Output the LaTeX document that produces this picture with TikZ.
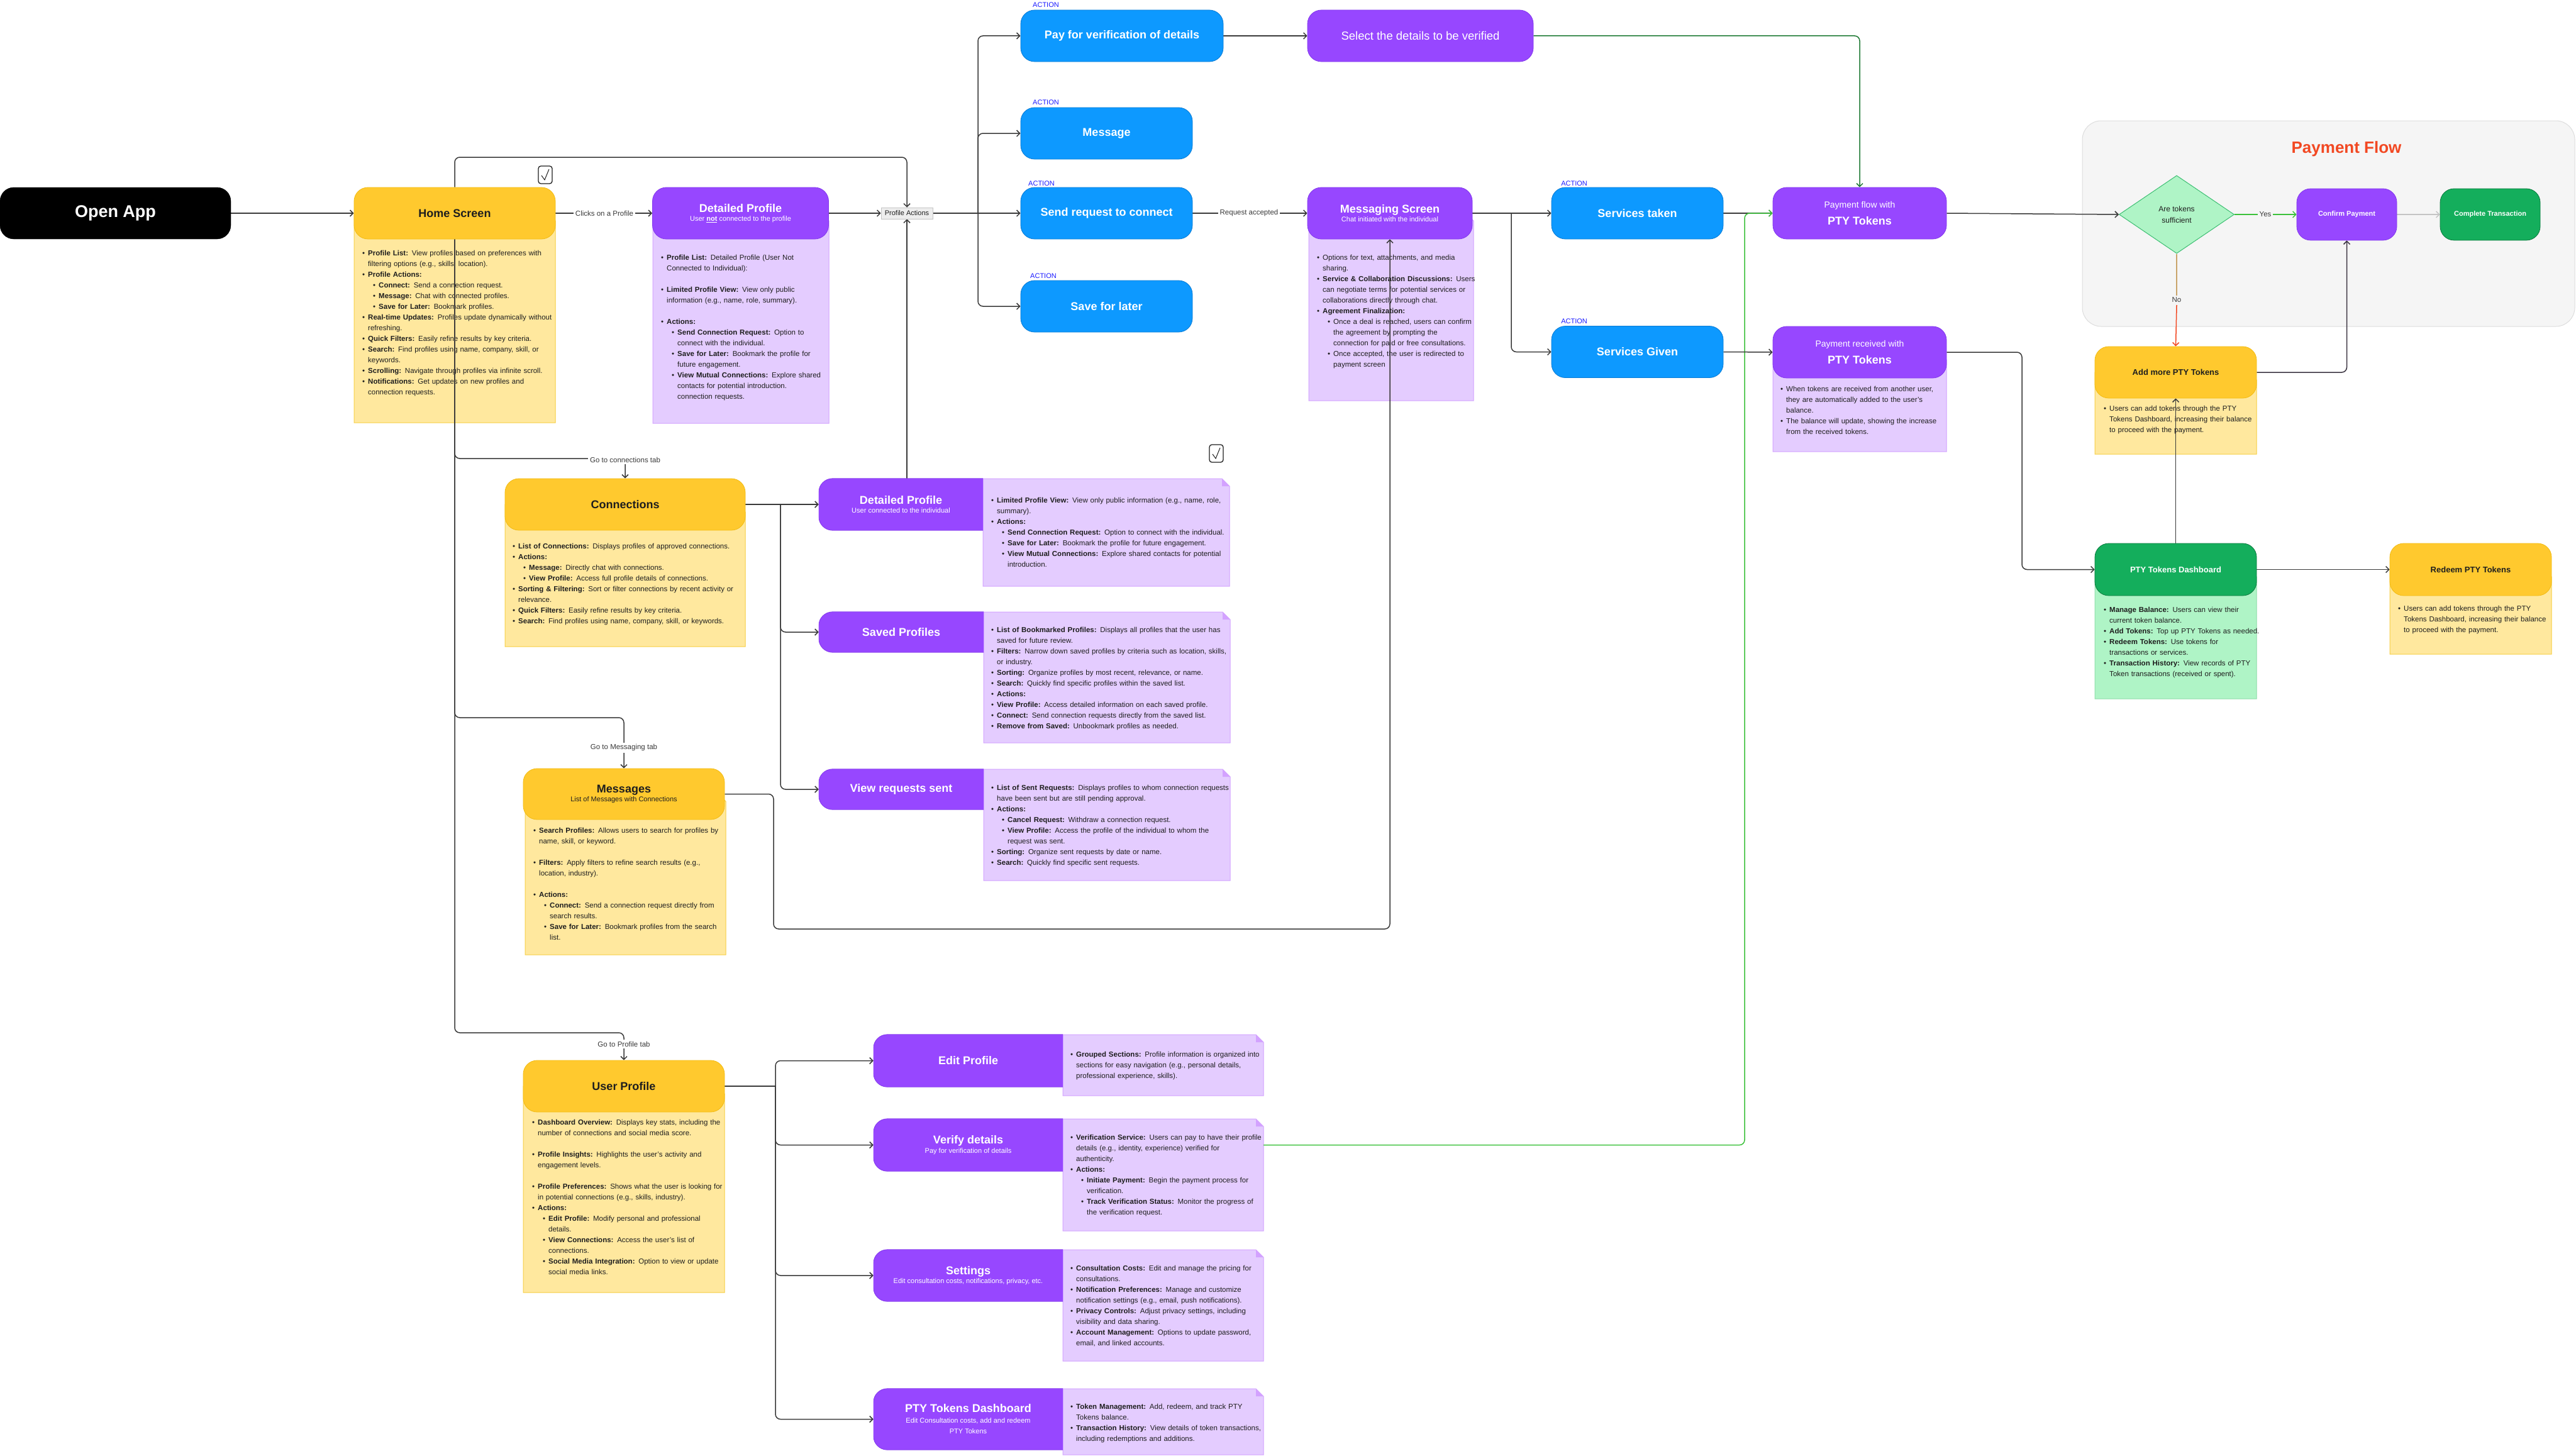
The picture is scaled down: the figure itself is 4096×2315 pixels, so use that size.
\documentclass[tikz,border=0pt]{standalone}
\usepackage{fontspec}
\setmainfont{Liberation Sans}
\usetikzlibrary{arrows.meta,shapes.geometric}
\definecolor{ycol}{HTML}{FFC92E}
\definecolor{yedge}{HTML}{F2BB12}
\definecolor{ybody}{HTML}{FFE89E}
\definecolor{yedge2}{HTML}{F7CF45}
\definecolor{pcol}{HTML}{9747FF}
\definecolor{pedge}{HTML}{8338EC}
\definecolor{pbody}{HTML}{E4CCFF}
\definecolor{pedge2}{HTML}{D3A2FF}
\definecolor{bcol}{HTML}{0D99FF}
\definecolor{bedge}{HTML}{0A7BD4}
\definecolor{gcol}{HTML}{14AE5C}
\definecolor{gedge}{HTML}{0B7A3E}
\definecolor{gbody}{HTML}{AFF4C6}
\definecolor{gedge2}{HTML}{8FDDAA}
\definecolor{txt}{HTML}{1E1E1E}
\definecolor{lcol}{HTML}{3A3A3A}
\definecolor{lgreen}{HTML}{3CC13B}
\definecolor{dgreen}{HTML}{1F7A35}
\definecolor{lgray}{HTML}{C4C4C4}
\definecolor{cfill}{HTML}{F5F5F5}
\definecolor{cedge}{HTML}{DDDDDD}
\definecolor{pfred}{HTML}{F24822}
\definecolor{tanc}{HTML}{C9A46A}
\definecolor{actcol}{HTML}{1A1AFF}
\definecolor{dfill}{HTML}{AFF4C6}
\definecolor{dedge}{HTML}{3DBE72}
\definecolor{pagray}{HTML}{EDEDED}
\definecolor{dline}{HTML}{3A3340}
\pgfdeclarelayer{bgL}\pgfdeclarelayer{bodyL}\pgfdeclarelayer{lineL}\pgfdeclarelayer{hdrL}
\pgfsetlayers{bgL,bodyL,lineL,hdrL,main}
\newcommand{\HdTitle}{\fontsize{18}{22}\selectfont\bfseries}
\newcommand{\HdSub}{\fontsize{11}{14.5}\selectfont\mdseries}
\newcommand{\BodyFont}{\fontsize{11.5}{17}\selectfont}
\newcommand{\LblFont}{\fontsize{11.5}{13}\selectfont}
\newcommand{\LiF}[1]{\noindent\strut\makebox[9pt][l]{\textbullet}#1}
\newcommand{\Li}[1]{\par\LiF{#1}}
\newcommand{\Lc}[1]{\par\noindent\strut\hspace*{9pt}#1}
\newcommand{\Lii}[1]{\par\noindent\strut\hspace*{17pt}\makebox[9pt][l]{\textbullet}#1}
\newcommand{\Lcc}[1]{\par\noindent\strut\hspace*{26pt}#1}
\newcommand{\Gap}{\par\noindent\strut}
\newcommand{\NoteBox}[6]{%
  \filldraw[fill=#5, draw=#6, line width=1pt] (#1,#2) -- ({#3-12},#2) -- (#3,{#2+12}) -- (#3,#4) -- (#1,#4) -- cycle;
  \fill[#6] ({#3-12},#2) -- ({#3-12},{#2+12}) -- (#3,{#2+12}) -- cycle;}
\newcommand{\HalfFill}[2]{\begin{pgfonlayer}{hdrL}\begin{scope}\clip (#1.north west) rectangle (#1.south east);\filldraw[fill=#2, draw=pedge, line width=0.8pt, rounded corners=22pt] (#1.north west) rectangle ([xshift=40pt]#1.south east);\end{scope}\end{pgfonlayer}}
\begin{document}
\begin{tikzpicture}[x=1pt,y=-1pt,
  hdr/.style={rectangle, rounded corners=22pt, minimum height=82pt, inner sep=2pt, align=center},
  yhdr/.style={hdr, fill=ycol, draw=yedge, line width=0.8pt, text=txt, font=\HdTitle},
  bhdr/.style={hdr, fill=bcol, draw=bedge, line width=0.8pt, text=white, font=\HdTitle},
  phdr/.style={hdr, fill=pcol, draw=pedge, line width=0.8pt, text=white, font=\HdTitle},
  ghdr/.style={hdr, fill=gcol, draw=gedge, line width=0.8pt, text=white, font=\HdTitle},
  halfp/.style={rectangle, minimum height=82pt, inner sep=2pt, align=center, text=white, font=\HdTitle},
  btxt/.style={anchor=north west, inner sep=0pt, text width=430pt, align=left, font=\BodyFont, text=txt},
  conn/.style={line width=1.5pt, draw=lcol, rounded corners=8pt},
  arr/.style={conn, -{Straight Barb[length=5pt,width=10pt]}},
  lbl/.style={fill=white, inner sep=3pt, font=\LblFont, text=lcol},
  act/.style={font=\fontsize{11}{13}\selectfont, text=actcol, inner sep=0pt}]
\useasboundingbox (0,0) rectangle (4096,2315);
\begin{pgfonlayer}{bgL}\fill[white] (0,0) rectangle (4096,2315);\end{pgfonlayer}

% ---------------- headers ----------------
\node[hdr, minimum width=367pt, fill=black, draw=black, text=white, font=\fontsize{27}{30}\selectfont\bfseries] (open) at (183.5,339) {Open App};
\node[yhdr, minimum width=320pt] (home) at (723,339) {Home Screen};
\node[phdr, minimum width=280pt, font=\HdSub] (dp1) at (1177.5,339) {{\HdTitle Detailed Profile}\\User \underline{\textbf{not}} connected to the profile};
\node[draw=lgray, fill=pagray, font=\fontsize{11}{13}\selectfont, text=txt, inner xsep=6pt, inner ysep=5pt] (pa) at (1442,339) {Profile Actions};
\node[bhdr, minimum width=322pt] (pay) at (1784,57) {Pay for verification of details};
\node[phdr, minimum width=359pt, font=\fontsize{18.5}{22}\selectfont] (sel) at (2258.5,57) {Select the details to be verified};
\node[bhdr, minimum width=273pt] (msg) at (1759.5,212) {Message};
\node[bhdr, minimum width=273pt] (send) at (1759.5,339) {Send request to connect};
\node[bhdr, minimum width=273pt] (save) at (1759.5,487) {Save for later};
\node[phdr, minimum width=262pt, font=\HdSub] (ms) at (2210,339) {{\HdTitle Messaging Screen}\\Chat initiated with the individual};
\node[bhdr, minimum width=273pt] (st) at (2603.5,339) {Services taken};
\node[bhdr, minimum width=273pt] (sg) at (2603.5,559.5) {Services Given};
\node[phdr, minimum width=276pt, font=\fontsize{14}{27}\selectfont] (pf) at (2957,339) {Payment flow with\\{\HdTitle PTY Tokens}};
\node[phdr, minimum width=276pt, font=\fontsize{14}{27}\selectfont] (pr) at (2957,560) {Payment received with\\{\HdTitle PTY Tokens}};
\node[font=\fontsize{26}{30}\selectfont\bfseries, text=pfred] (pft) at (3731,237) {Payment Flow};
\node[diamond, aspect=1.47, minimum width=183pt, minimum height=124pt, inner sep=0pt, fill=dfill, draw=dedge, line width=1pt, align=center, font=\fontsize{12}{18}\selectfont, text=txt] (dia) at (3461,341) {Are tokens\\sufficient};
\node[phdr, minimum width=159pt, font=\fontsize{11}{13}\selectfont\bfseries] (cp) at (3731.5,341) {Confirm Payment};
\node[ghdr, minimum width=159pt, font=\fontsize{11}{13}\selectfont\bfseries] (ct) at (3959.5,341) {Complete Transaction};
\node[yhdr, minimum width=257pt, font=\fontsize{13}{15}\selectfont\bfseries] (am) at (3459.5,592) {Add more PTY Tokens};
\node[ghdr, minimum width=257pt, minimum height=83pt, font=\fontsize{13}{15}\selectfont\bfseries] (pd) at (3459.5,905.5) {PTY Tokens Dashboard};
\node[yhdr, minimum width=257pt, minimum height=83pt, font=\fontsize{13}{15}\selectfont\bfseries] (rd) at (3928.5,905.5) {Redeem PTY Tokens};
\node[yhdr, minimum width=382pt] (con) at (994,802) {Connections};
\node[halfp, minimum width=261pt, font=\HdSub] (dp2) at (1432.5,802) {{\HdTitle Detailed Profile}\\User connected to the individual};
\node[halfp, minimum width=262pt, minimum height=64pt] (sp) at (1433,1005) {Saved Profiles};
\node[halfp, minimum width=262pt, minimum height=64pt] (vr) at (1433,1255) {View requests sent};
\node[yhdr, minimum width=320pt, minimum height=81pt, font=\HdSub] (mg) at (992,1262.5) {{\HdTitle Messages}\\List of Messages with Connections};
\node[yhdr, minimum width=320pt] (up) at (992,1727) {User Profile};
\node[halfp, minimum width=301pt, minimum height=83pt] (ep) at (1539.5,1686.5) {Edit Profile};
\node[halfp, minimum width=301pt, minimum height=83pt, font=\HdSub] (vd) at (1539.5,1820.5) {{\HdTitle Verify details}\\Pay for verification of details};
\node[halfp, minimum width=301pt, font=\HdSub] (se) at (1539.5,2028) {{\HdTitle Settings}\\Edit consultation costs, notifications, privacy, etc.};
\node[halfp, minimum width=301pt, minimum height=97pt, font=\fontsize{11}{17}\selectfont] (ptd) at (1539.5,2256.5) {{\HdTitle PTY Tokens Dashboard}\\Edit Consultation costs, add and redeem\\PTY Tokens};
\HalfFill{dp2}{pcol}
\HalfFill{sp}{pcol}
\HalfFill{vr}{pcol}
\HalfFill{ep}{pcol}
\HalfFill{vd}{pcol}
\HalfFill{se}{pcol}
\HalfFill{ptd}{pcol}

% ACTION labels
\node[act] (a1) at (1663,8) {ACTION};
\node[act] (a2) at (1663,163) {ACTION};
\node[act] (a3) at (1656,292) {ACTION};
\node[act] (a4) at (1659,439) {ACTION};
\node[act] (a5) at (2503,292) {ACTION};
\node[act] (a6) at (2503,511) {ACTION};

% checkboxes
\draw[txt, line width=1.3pt, rounded corners=4pt] (856,264) rectangle (878,292);
\draw[txt, line width=1pt] (861,279) -- (866,286) -- (873,269);
\draw[txt, line width=1.3pt, rounded corners=4pt] (1923,707) rectangle (1945,735);
\draw[txt, line width=1pt] (1928,722) -- (1933,729) -- (1940,712);

% ---------------- bodies ----------------
\begin{pgfonlayer}{bodyL}
\filldraw[fill=cfill, draw=cedge, line width=1pt, rounded corners=30pt] (3311,192) rectangle (4094,519);
\NoteBox{563}{339}{883}{672}{ybody}{yedge2}
\NoteBox{1038}{339}{1318}{673}{pbody}{pedge2}
\NoteBox{2081}{339}{2343}{637}{pbody}{pedge2}
\NoteBox{2819}{560}{3095}{718}{pbody}{pedge2}
\NoteBox{803}{802}{1185}{1028}{ybody}{yedge2}
\NoteBox{835}{1262}{1154}{1518}{ybody}{yedge2}
\NoteBox{832}{1727}{1152}{2055}{ybody}{yedge2}
\NoteBox{1563}{761}{1955}{932}{pbody}{pedge2}
\NoteBox{1564}{973}{1956}{1181}{pbody}{pedge2}
\NoteBox{1564}{1223}{1956}{1400}{pbody}{pedge2}
\NoteBox{1690}{1645}{2009}{1742}{pbody}{pedge2}
\NoteBox{1690}{1779}{2009}{1957}{pbody}{pedge2}
\NoteBox{1690}{1987}{2009}{2164}{pbody}{pedge2}
\NoteBox{1690}{2208}{2009}{2313}{pbody}{pedge2}
\NoteBox{3331}{592}{3588}{722}{ybody}{yedge2}
\NoteBox{3331}{905}{3588}{1111}{gbody}{gedge2}
\NoteBox{3800}{905}{4057}{1040}{ybody}{yedge2}

\node[btxt] (homeT) at (576,394) {\LiF{\textbf{Profile List:} View profiles based on preferences with}\Lc{filtering options (e.g., skills, location).}\Li{\textbf{Profile Actions:}}\Lii{\textbf{Connect:} Send a connection request.}\Lii{\textbf{Message:} Chat with connected profiles.}\Lii{\textbf{Save for Later:} Bookmark profiles.}\Li{\textbf{Real-time Updates:} Profiles update dynamically without}\Lc{refreshing.}\Li{\textbf{Quick Filters:} Easily refine results by key criteria.}\Li{\textbf{Search:} Find profiles using name, company, skill, or}\Lc{keywords.}\Li{\textbf{Scrolling:} Navigate through profiles via infinite scroll.}\Li{\textbf{Notifications:} Get updates on new profiles and}\Lc{connection requests.}};

\node[btxt] (dp1T) at (1051,401) {\LiF{\textbf{Profile List:} Detailed Profile (User Not}\Lc{Connected to Individual):}\Gap\Li{\textbf{Limited Profile View:} View only public}\Lc{information (e.g., name, role, summary).}\Gap\Li{\textbf{Actions:}}\Lii{\textbf{Send Connection Request:} Option to}\Lcc{connect with the individual.}\Lii{\textbf{Save for Later:} Bookmark the profile for}\Lcc{future engagement.}\Lii{\textbf{View Mutual Connections:} Explore shared}\Lcc{contacts for potential introduction.}\Lcc{connection requests.}};

\node[btxt] (msT) at (2094,401) {\LiF{Options for text, attachments, and media}\Lc{sharing.}\Li{\textbf{Service \& Collaboration Discussions:} Users}\Lc{can negotiate terms for potential services or}\Lc{collaborations directly through chat.}\Li{\textbf{Agreement Finalization:}}\Lii{Once a deal is reached, users can confirm}\Lcc{the agreement by prompting the}\Lcc{connection for paid or free consultations.}\Lii{Once accepted, the user is redirected to}\Lcc{payment screen}};

\node[btxt] (prT) at (2831,610) {\LiF{When tokens are received from another user,}\Lc{they are automatically added to the user’s}\Lc{balance.}\Li{The balance will update, showing the increase}\Lc{from the received tokens.}};

\node[btxt] (conT) at (815,860) {\LiF{\textbf{List of Connections:} Displays profiles of approved connections.}\Li{\textbf{Actions:}}\Lii{\textbf{Message:} Directly chat with connections.}\Lii{\textbf{View Profile:} Access full profile details of connections.}\Li{\textbf{Sorting \& Filtering:} Sort or filter connections by recent activity or}\Lc{relevance.}\Li{\textbf{Quick Filters:} Easily refine results by key criteria.}\Li{\textbf{Search:} Find profiles using name, company, skill, or keywords.}};

\node[btxt] (dp2T) at (1576,787) {\LiF{\textbf{Limited Profile View:} View only public information (e.g., name, role,}\Lc{summary).}\Li{\textbf{Actions:}}\Lii{\textbf{Send Connection Request:} Option to connect with the individual.}\Lii{\textbf{Save for Later:} Bookmark the profile for future engagement.}\Lii{\textbf{View Mutual Connections:} Explore shared contacts for potential}\Lcc{introduction.}};

\node[btxt] (spT) at (1576,993) {\LiF{\textbf{List of Bookmarked Profiles:} Displays all profiles that the user has}\Lc{saved for future review.}\Li{\textbf{Filters:} Narrow down saved profiles by criteria such as location, skills,}\Lc{or industry.}\Li{\textbf{Sorting:} Organize profiles by most recent, relevance, or name.}\Li{\textbf{Search:} Quickly find specific profiles within the saved list.}\Li{\textbf{Actions:}}\Li{\textbf{View Profile:} Access detailed information on each saved profile.}\Li{\textbf{Connect:} Send connection requests directly from the saved list.}\Li{\textbf{Remove from Saved:} Unbookmark profiles as needed.}};

\node[btxt] (vrT) at (1576,1244) {\LiF{\textbf{List of Sent Requests:} Displays profiles to whom connection requests}\Lc{have been sent but are still pending approval.}\Li{\textbf{Actions:}}\Lii{\textbf{Cancel Request:} Withdraw a connection request.}\Lii{\textbf{View Profile:} Access the profile of the individual to whom the}\Lcc{request was sent.}\Li{\textbf{Sorting:} Organize sent requests by date or name.}\Li{\textbf{Search:} Quickly find specific sent requests.}};

\node[btxt] (mgT) at (848,1312) {\LiF{\textbf{Search Profiles:} Allows users to search for profiles by}\Lc{name, skill, or keyword.}\Gap\Li{\textbf{Filters:} Apply filters to refine search results (e.g.,}\Lc{location, industry).}\Gap\Li{\textbf{Actions:}}\Lii{\textbf{Connect:} Send a connection request directly from}\Lcc{search results.}\Lii{\textbf{Save for Later:} Bookmark profiles from the search}\Lcc{list.}};

\node[btxt] (upT) at (846,1776) {\LiF{\textbf{Dashboard Overview:} Displays key stats, including the}\Lc{number of connections and social media score.}\Gap\Li{\textbf{Profile Insights:} Highlights the user’s activity and}\Lc{engagement levels.}\Gap\Li{\textbf{Profile Preferences:} Shows what the user is looking for}\Lc{in potential connections (e.g., skills, industry).}\Li{\textbf{Actions:}}\Lii{\textbf{Edit Profile:} Modify personal and professional}\Lcc{details.}\Lii{\textbf{View Connections:} Access the user’s list of}\Lcc{connections.}\Lii{\textbf{Social Media Integration:} Option to view or update}\Lcc{social media links.}};

\node[btxt] (epT) at (1702,1668) {\LiF{\textbf{Grouped Sections:} Profile information is organized into}\Lc{sections for easy navigation (e.g., personal details,}\Lc{professional experience, skills).}};

\node[btxt] (vdT) at (1702,1800) {\LiF{\textbf{Verification Service:} Users can pay to have their profile}\Lc{details (e.g., identity, experience) verified for}\Lc{authenticity.}\Li{\textbf{Actions:}}\Lii{\textbf{Initiate Payment:} Begin the payment process for}\Lcc{verification.}\Lii{\textbf{Track Verification Status:} Monitor the progress of}\Lcc{the verification request.}};

\node[btxt] (seT) at (1702,2008) {\LiF{\textbf{Consultation Costs:} Edit and manage the pricing for}\Lc{consultations.}\Li{\textbf{Notification Preferences:} Manage and customize}\Lc{notification settings (e.g., email, push notifications).}\Li{\textbf{Privacy Controls:} Adjust privacy settings, including}\Lc{visibility and data sharing.}\Li{\textbf{Account Management:} Options to update password,}\Lc{email, and linked accounts.}};

\node[btxt] (ptdT) at (1702,2228) {\LiF{\textbf{Token Management:} Add, redeem, and track PTY}\Lc{Tokens balance.}\Li{\textbf{Transaction History:} View details of token transactions,}\Lc{including redemptions and additions.}};

\node[btxt] (amT) at (3345,641) {\LiF{Users can add tokens through the PTY}\Lc{Tokens Dashboard, increasing their balance}\Lc{to proceed with the payment.}};

\node[btxt] (pdT) at (3345,961) {\LiF{\textbf{Manage Balance:} Users can view their}\Lc{current token balance.}\Li{\textbf{Add Tokens:} Top up PTY Tokens as needed.}\Li{\textbf{Redeem Tokens:} Use tokens for}\Lc{transactions or services.}\Li{\textbf{Transaction History:} View records of PTY}\Lc{Token transactions (received or spent).}};

\node[btxt] (rdT) at (3813,959) {\LiF{Users can add tokens through the PTY}\Lc{Tokens Dashboard, increasing their balance}\Lc{to proceed with the payment.}};
\end{pgfonlayer}

% ---------------- connectors ----------------
\begin{pgfonlayer}{lineL}
\draw[arr] (open.east) -- (home.west);
\draw[arr] (home.east) -- (dp1.west);
\node[lbl] (l1) at (961,339) {Clicks on a Profile};
\draw[arr] (dp1.east) -- (pa.west);
\coordinate (b1) at (1555,339);
\draw[conn] (pa.east) -- (b1);
\draw[arr] (b1) |- (pay.west);
\draw[arr] (b1) |- (msg.west);
\draw[arr] (b1) -- (send.west);
\draw[arr] (b1) |- (save.west);
\draw[arr] (home.north) -- (723,250) -| (pa.north);
\draw[arr] (pa.south |- dp2.north) -- (pa.south);
\draw[arr] (home.south) -- (723,729) -| (con.north);
\node[lbl] (l2) at (994,731) {Go to connections tab};
\draw[arr] (home.south) -- (723,1141) -| (mg.north);
\node[lbl] (l3) at (992,1189) {Go to Messaging tab};
\draw[arr] (home.south) -- (723,1642) -| (up.north);
\node[lbl] (l4) at (992,1660) {Go to Profile tab};
\coordinate (b2) at (1241,802);
\draw[conn] (con.east) -- (b2);
\draw[arr] (b2) -- (dp2.west);
\draw[arr] (b2) |- (sp.west);
\draw[arr] (b2) |- (vr.west);
\draw[arr] (mg.east) -- (1230,1262.5) -- (1230,1477) -- (2210,1477) -- (ms.south);
\coordinate (b3) at (1233,1727);
\draw[conn] (up.east) -- (b3);
\draw[arr] (b3) |- (ep.west);
\draw[arr] (b3) |- (vd.west);
\draw[arr] (b3) |- (se.west);
\draw[arr] (b3) |- (ptd.west);
\draw[arr] (pay.east) -- (sel.west);
\draw[arr, draw=dgreen] (sel.east) -| (pf.north);
\draw[arr] (send.east) -- (ms.west);
\node[lbl] (l5) at (1986,339) {Request accepted};
\coordinate (b4) at (2403,339);
\draw[conn] (ms.east) -- (b4);
\draw[arr] (b4) -- (st.west);
\draw[arr] (b4) |- (sg.west);
\draw[arr] (st.east) -- (pf.west);
\coordinate (vdn) at (2009,1820.5);
\draw[arr, draw=lgreen] (vdn) -- (2774,1820.5) |- (pf.west);
\draw[arr] (sg.east) -- (pr.west);
\draw[arr] (pr.east) -- (3215,560) |- (pd.west);
\draw[arr] (pf.east) -- (dia.west);
\draw[arr, draw=lgreen] (dia.east) -- (cp.west);
\node[lbl, fill=cfill] (l6) at (3602,341) {Yes};
\draw[arr, draw=lgray] (cp.east) -- (ct.west);
\draw[conn, draw=tanc] (dia.south) -- (3461,470);
\coordinate (nob) at (3461,485);
\draw[arr, draw=pfred] (nob) -- (am.north);
\node[lbl, fill=cfill] (l7) at (3461,477) {No};
\draw[arr, draw=dline] (am.east) -| (cp.south);
\draw[arr] (pd.north) -- (am.south);
\draw[arr] (pd.east) -- (rd.west);
\end{pgfonlayer}
\end{tikzpicture}
\end{document}
